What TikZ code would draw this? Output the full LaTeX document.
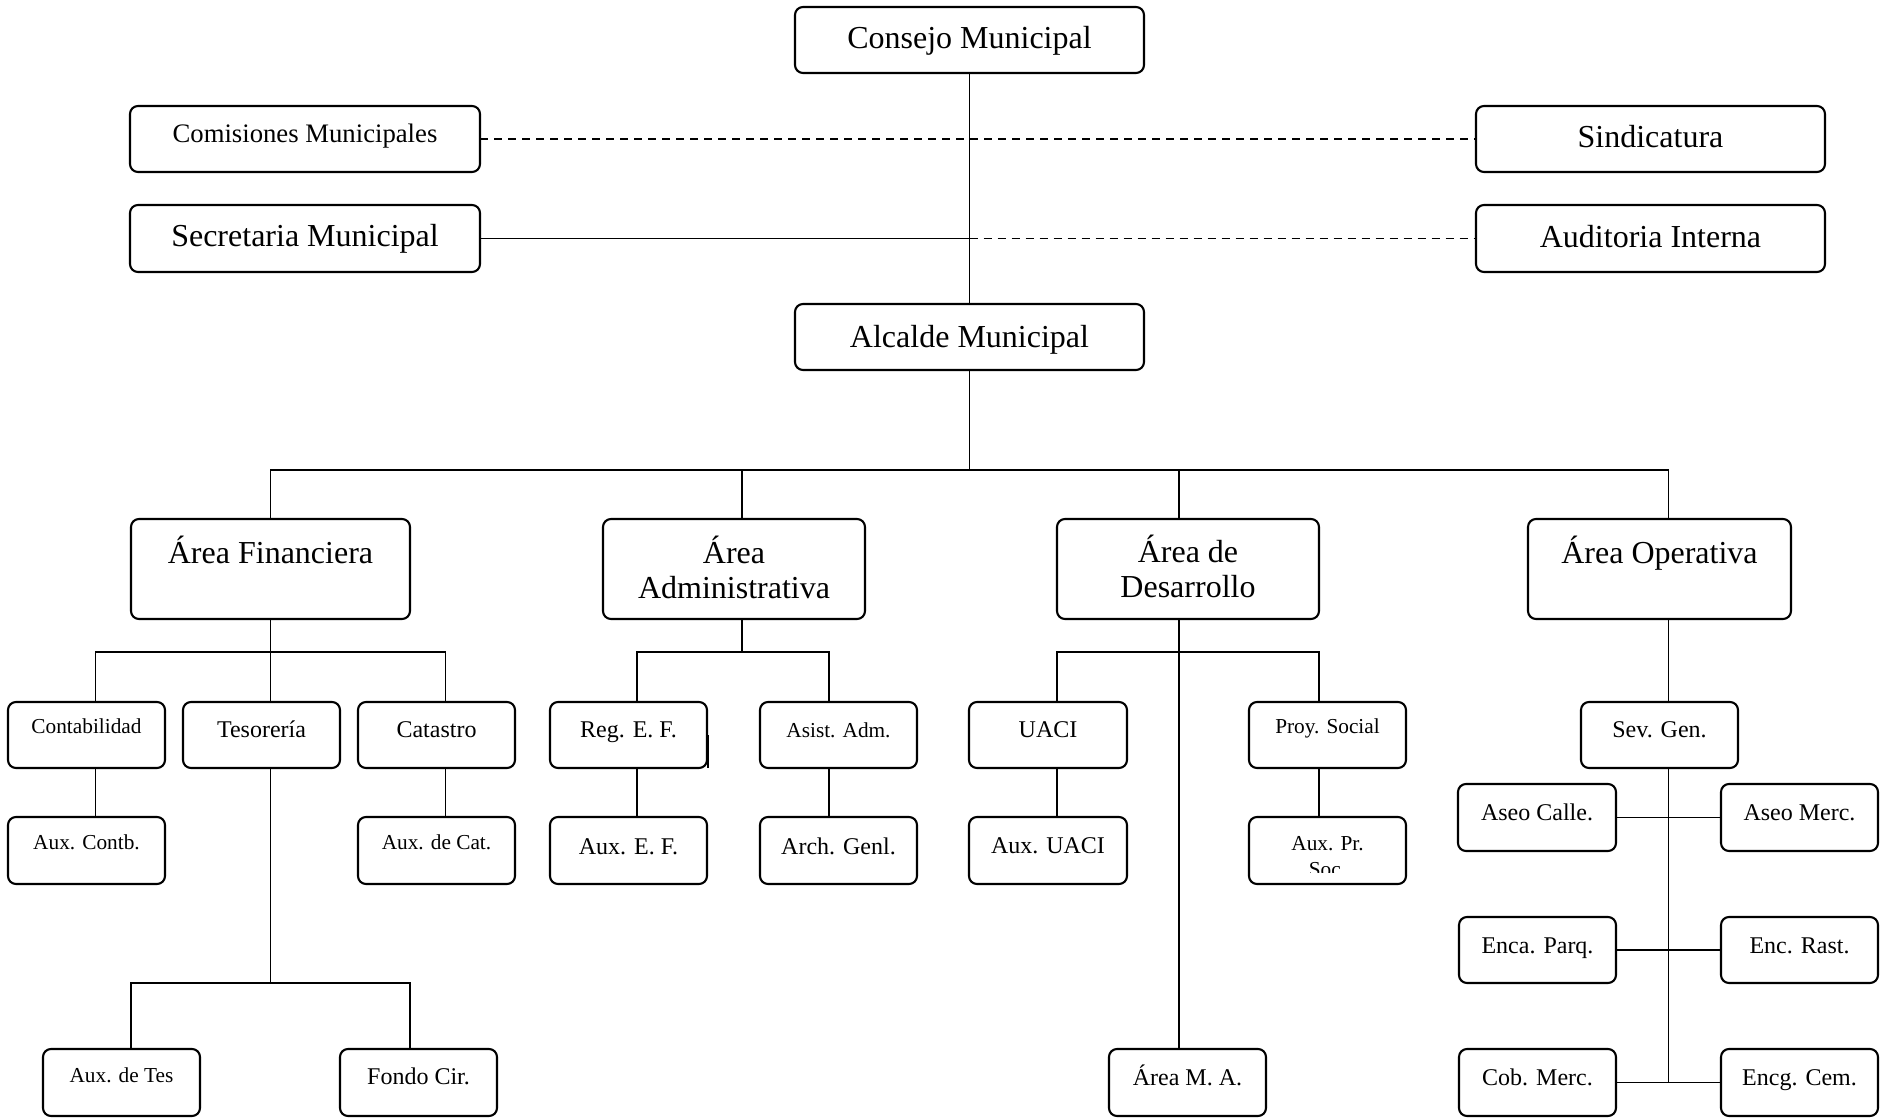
\documentclass[tikz,border=0pt]{standalone}
\usepackage{fontspec}
\setmainfont{Liberation Serif}
\newcommand\fszA{\fontsize{32}{35}\selectfont}
\newcommand\fszB{\fontsize{26.7}{30}\selectfont}
\newcommand\fszC{\fontsize{24}{27}\selectfont}
\newcommand\fszD{\fontsize{21.3}{24.5}\selectfont}
\newcommand\fszE{\fontsize{21.3}{26.5}\selectfont}
\newcommand\twol[2]{\begin{tabular}[t]{@{}c@{}}#1\\#2\end{tabular}}
% name x1 y1 x2 y2 baseline font text
\newcommand\ob[8]{%
  \node[obox, anchor=north west, minimum width={(#4-#2)*1pt}, minimum height={(#5-#3)*1pt}] (#1) at (#2,#3) {};
  \node[otext, font=#7] (#1-t) at ({(#2+#4)/2},#6) {#8};}
\begin{document}
\begin{tikzpicture}[x=1pt,y=-1pt,
  obox/.style={draw, rounded corners=8pt, line width=2.1pt, inner sep=0pt, outer sep=0pt},
  otext/.style={anchor=base, inner sep=0pt, outer sep=0pt},
  conn/.style={line width=1.9pt},
  dconn/.style={line width=1.7pt, dash pattern=on 8pt off 6pt}]
\useasboundingbox (0,0) rectangle (1885,1118);

% top
\ob{cons}{795}{7}{1144}{73}{49}{\fszA}{Consejo Municipal}
\ob{alc}{795}{304}{1144}{370}{347}{\fszA}{Alcalde Municipal}
\ob{com}{130}{106}{480}{172}{143}{\fszB}{Comisiones Municipales}
\ob{sec}{130}{205}{480}{272}{247}{\fszA}{Secretaria Municipal}
\ob{sin}{1476}{106}{1825}{172}{148}{\fszA}{Sindicatura}
\ob{aud}{1476}{205}{1825}{272}{247.5}{\fszA}{Auditoria Interna}

% areas
\ob{fin}{131}{519}{410}{619}{563}{\fszA}{Área Financiera}
\ob{adm}{603}{519}{865}{619}{563}{\fszA}{\twol{Área}{Administrativa}}
\ob{des}{1057}{519}{1319}{619}{562}{\fszA}{\twol{Área de}{Desarrollo}}
\ob{ope}{1528}{519}{1791}{619}{563}{\fszA}{Área Operativa}

% level 2
\ob{cont}{8}{702}{165}{768}{733}{\fszD}{Contabilidad}
\ob{tes}{183}{702}{340}{768}{737}{\fszC}{Tesorería}
\ob{cat}{358}{702}{515}{768}{737}{\fszC}{Catastro}
\ob{reg}{550}{702}{707}{768}{737}{\fszC}{Reg. E. F.}
\ob{asi}{760}{702}{917}{768}{737}{\fszD}{Asist. Adm.}
\ob{uaci}{969}{702}{1127}{768}{737}{\fszC}{UACI}
\ob{proy}{1249}{702}{1406}{768}{733}{\fszD}{Proy. Social}
\ob{sev}{1581}{702}{1738}{768}{737}{\fszC}{Sev. Gen.}

% level 3
\ob{auxc}{8}{817}{165}{884}{849}{\fszD}{Aux. Contb.}
\ob{auxcat}{358}{817}{515}{884}{849}{\fszD}{Aux. de Cat.}
\ob{auxef}{550}{817}{707}{884}{854}{\fszC}{Aux. E. F.}
\ob{arch}{760}{817}{917}{884}{854}{\fszC}{Arch. Genl.}
\ob{auxu}{969}{817}{1127}{884}{853}{\fszC}{Aux. UACI}
\node[obox, anchor=north west, minimum width=157pt, minimum height=67pt] (auxp) at (1249,817) {};
\begin{scope}
  \clip (1249,817) rectangle (1406,872);
  \node[otext, font=\fszE] (auxp-t) at (1327.5,850) {\twol{Aux. Pr.}{Soc.}};
\end{scope}

% operativa
\ob{aseoc}{1458}{784}{1616}{851}{820}{\fszC}{Aseo Calle.}
\ob{aseom}{1721}{784}{1878}{851}{820}{\fszC}{Aseo Merc.}
\ob{enca}{1459}{917}{1616}{983}{953}{\fszC}{Enca. Parq.}
\ob{encr}{1721}{917}{1878}{983}{953}{\fszC}{Enc. Rast.}
\ob{cob}{1459}{1049}{1616}{1116}{1085}{\fszC}{Cob. Merc.}
\ob{encg}{1721}{1049}{1878}{1116}{1085}{\fszC}{Encg. Cem.}

% bottom
\ob{auxt}{43}{1049}{200}{1116}{1082}{\fszD}{Aux. de Tes}
\ob{fondo}{340}{1049}{497}{1116}{1084}{\fszC}{Fondo Cir.}
\ob{area}{1109}{1049}{1266}{1116}{1085}{\fszC}{Área M. A.}

% stray edge on Reg. E. F.
\draw[line width=1.6pt] ([xshift=0.8pt]reg.east) -- ([xshift=0.8pt]reg.south east);

% helper coordinates
\coordinate (yBus) at (0,470);
\coordinate (ySub) at (0,652);
\coordinate (yTes) at (0,983);

% top connectors
\draw[conn] (cons.south) -- (alc.north);
\draw[dconn] (com.east) -- (sin.west);
\coordinate (secx) at (cons.south |- sec.east);
\draw[conn] (sec.east) -- (secx);
\draw[dconn] (secx) -- (aud.west);

% main bus
\coordinate (admT) at ([xshift=8pt]adm.north);
\coordinate (desT) at ([xshift=-9pt]des.north);
\coordinate (opeT) at ([xshift=9pt]ope.north);
\draw[conn] (alc.south) -- (alc.south |- yBus);
\draw[conn] (fin.north) -- (fin.north |- yBus) -- (opeT |- yBus) -- (opeT);
\draw[conn] (admT) -- (admT |- yBus);
\draw[conn] (desT) -- (desT |- yBus);

% financiera
\coordinate (contT) at ([xshift=9pt]cont.north);
\coordinate (tesT) at ([xshift=9pt]tes.north);
\coordinate (catT) at ([xshift=9pt]cat.north);
\draw[conn] (fin.south) -- (tesT);
\draw[conn] (contT) -- (contT |- ySub) -- (catT |- ySub) -- (catT);
\draw[conn] ([xshift=9pt]cont.south) -- ([xshift=9pt]auxc.north);
\draw[conn] ([xshift=9pt]cat.south) -- ([xshift=9pt]auxcat.north);
\coordinate (tesB) at ([xshift=9pt]tes.south);
\coordinate (auxtT) at ([xshift=9.5pt]auxt.north);
\coordinate (fondoT) at ([xshift=-8.5pt]fondo.north);
\draw[conn] (tesB) -- (tesB |- yTes);
\draw[conn] (auxtT) -- (auxtT |- yTes) -- (fondoT |- yTes) -- (fondoT);

% administrativa
\coordinate (admB) at ([xshift=8pt]adm.south);
\coordinate (regT) at ([xshift=8.5pt]reg.north);
\coordinate (asiT) at ([xshift=-9.5pt]asi.north);
\draw[conn] (admB) -- (admB |- ySub);
\draw[conn] (regT) -- (regT |- ySub) -- (asiT |- ySub) -- (asiT);
\draw[conn] ([xshift=8.5pt]reg.south) -- ([xshift=8.5pt]auxef.north);
\draw[conn] ([xshift=-9.5pt]asi.south) -- ([xshift=-9.5pt]arch.north);

% desarrollo
\coordinate (desB) at ([xshift=-9pt]des.south);
\coordinate (uaciT) at ([xshift=9pt]uaci.north);
\coordinate (proyT) at ([xshift=-8.5pt]proy.north);
\draw[conn] (desB) -- ([xshift=-8.5pt]area.north);
\draw[conn] (uaciT) -- (uaciT |- ySub) -- (proyT |- ySub) -- (proyT);
\draw[conn] ([xshift=9pt]uaci.south) -- ([xshift=9pt]auxu.north);
\draw[conn] ([xshift=-8.5pt]proy.south) -- ([xshift=-8.5pt]auxp.north);

% operativa
\coordinate (opeB) at ([xshift=9pt]ope.south);
\coordinate (sevB) at ([xshift=9pt]sev.south);
\draw[conn] (opeB) -- ([xshift=9pt]sev.north);
\draw[conn] (sevB) -- (sevB |- cob.east);
\draw[conn] (aseoc.east) -- (aseom.west);
\draw[conn] (enca.east) -- (encr.west);
\draw[conn] (cob.east) -- (encg.west);
\end{tikzpicture}
\end{document}
